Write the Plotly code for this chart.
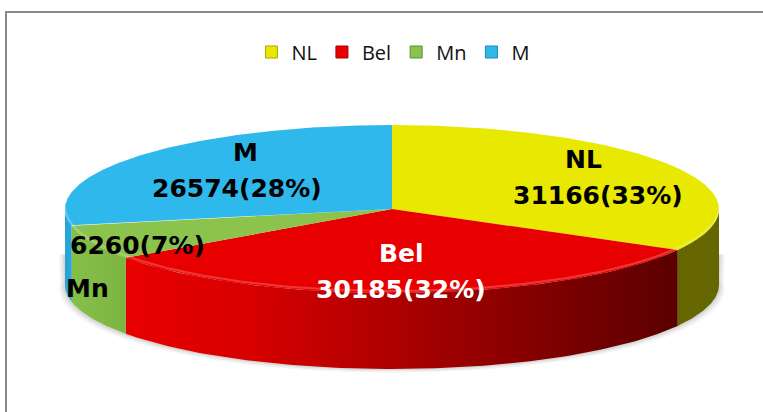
import numpy as np
import plotly.graph_objects as go

# ---- data ----
labels = ["NL", "Bel", "Mn", "M"]
values = [31166, 30185, 6260, 26574]
percents = ["33%", "32%", "7%", "28%"]

# ---- style ----
top_colors = ["#e8e800", "#e80000", "#8cc34c", "#2fb8ec"]
side_scales = [
    [[0, "#666600"], [1, "#666600"]],
    [[0, "#e80000"], [0.22, "#d80000"], [1, "#5a0000"]],
    [[0, "#86bf48"], [1, "#7cb540"]],
    [[0, "#27a3d4"], [1, "#2aa8da"]],
]
legend_lines = ["#a8a800", "#a80000", "#5f8f30", "#1a88b8"]
label_colors = ["black", "white", "black", "black"]
label_rx = [0.73, 0.50, 0.85, 0.61]
label_ry = [0.73, 0.75, 1.10, 0.73]
name_xshift = [-14, 0, 0, 8]

W, H = 763, 412
cx, cy = 392, 209       # ellipse centre (pixel-like axis units)
a, b = 327, 84          # semi axes of top face
depth = 76              # wall height

vals = np.array(values, dtype=float)
fr = vals / vals.sum()
cum = np.concatenate([[0], np.cumsum(fr)])
t_start = 90 - cum[:-1] * 360
t_end = 90 - cum[1:] * 360


def pt(tdeg, dy=0.0, rx=1.0, ry=1.0):
    t = np.radians(tdeg)
    return cx + rx * a * np.cos(t), cy - ry * b * np.sin(t) + dy


fig = go.Figure()

# soft shadow under the pie
for k, op in [(6, 0.04), (4, 0.05), (2, 0.07)]:
    tt = np.linspace(-185, 5, 160)
    x1, y1 = pt(tt, depth)
    xs = np.concatenate([[cx - a - k], x1 + np.sign(x1 - cx) * k, [cx + a + k]])
    ys = np.concatenate([[cy + depth * 0.6], y1 + k * 0.6, [cy + depth * 0.6]])
    fig.add_trace(go.Scatter(x=xs, y=ys, mode="lines", fill="toself",
                             line=dict(width=0), fillcolor=f"rgba(0,0,0,{op})",
                             hoverinfo="skip", showlegend=False))

# side walls (front half only, angles in [-180, 0])
for i in range(len(values)):
    lo = max(t_end[i], -180)
    hi = min(t_start[i], 0)
    if hi <= lo:
        continue
    tt = np.linspace(lo, hi, 120)
    xt, yt = pt(tt)
    xb, yb = pt(tt[::-1], depth)
    xs = np.concatenate([xt, xb, xt[:1]])
    ys = np.concatenate([yt, yb, yt[:1]])
    fig.add_trace(go.Scatter(x=xs, y=ys, mode="lines", fill="toself",
                             line=dict(width=0),
                             fillgradient=dict(type="horizontal", colorscale=side_scales[i]),
                             hoverinfo="skip", showlegend=False))

# top faces
for i in range(len(values)):
    n = max(int(abs(t_start[i] - t_end[i]) * 2), 10)
    tt = np.linspace(t_start[i], t_end[i], n)
    xa, ya = pt(tt)
    xs = np.concatenate([[cx], xa, [cx]])
    ys = np.concatenate([[cy], ya, [cy]])
    fig.add_trace(go.Scatter(x=xs, y=ys, mode="lines", fill="toself",
                             line=dict(width=0), fillcolor=top_colors[i],
                             hoverinfo="skip", showlegend=False))

# slight bevel highlight on the front rim
tt = np.linspace(-180, 0, 200)
xr, yr = pt(tt, -2)
fig.add_trace(go.Scatter(x=xr, y=yr, mode="lines",
                         line=dict(width=2, color="rgba(255,255,255,0.22)"),
                         hoverinfo="skip", showlegend=False))

# legend entries
for i, lab in enumerate(labels):
    fig.add_trace(go.Scatter(x=[None], y=[None], mode="markers", name=lab,
                             marker=dict(symbol="square", size=12, color=top_colors[i],
                                         line=dict(color=legend_lines[i], width=1))))

# labels
lab_font = dict(family="DejaVu Sans", size=25, weight="bold")
for i, lab in enumerate(labels):
    mid = (t_start[i] + t_end[i]) / 2
    lx, ly = pt(mid, rx=label_rx[i], ry=label_ry[i])
    val_txt = f"{values[i]}({percents[i]})"
    f = dict(lab_font, color=label_colors[i])
    if lab == "Mn":
        fig.add_annotation(x=lx, y=ly, text=val_txt, showarrow=False, font=f)
        fig.add_annotation(x=lx, y=ly, text=lab, showarrow=False, xshift=-50, yshift=-43, font=f)
    else:
        fig.add_annotation(x=lx, y=ly, text=lab, showarrow=False, xshift=name_xshift[i],
                           yshift=18, font=f)
        fig.add_annotation(x=lx, y=ly, text=val_txt, showarrow=False, yshift=-18, font=f)

# chart frame
fig.add_shape(type="rect", x0=6, y0=12, x1=W + 40, y1=H + 40,
              line=dict(color="#8a8a8a", width=2), layer="below")

fig.update_layout(
    width=W, height=H,
    margin=dict(l=0, r=0, t=0, b=0),
    paper_bgcolor="white", plot_bgcolor="white",
    xaxis=dict(range=[0, W], visible=False, fixedrange=True),
    yaxis=dict(range=[H, 0], visible=False, fixedrange=True),
    showlegend=True,
    legend=dict(orientation="h", x=0.515, xanchor="center", y=1 - 52 / H, yanchor="middle",
                font=dict(family="Open Sans", size=20, color="#111"),
                itemclick=False, itemdoubleclick=False, bgcolor="rgba(0,0,0,0)",
                itemwidth=30, tracegroupgap=0),
)

fig.write_html("out.html", config={"displayModeBar": False},
               post_script="document.body.style.margin='0px';document.body.style.overflow='hidden';")
